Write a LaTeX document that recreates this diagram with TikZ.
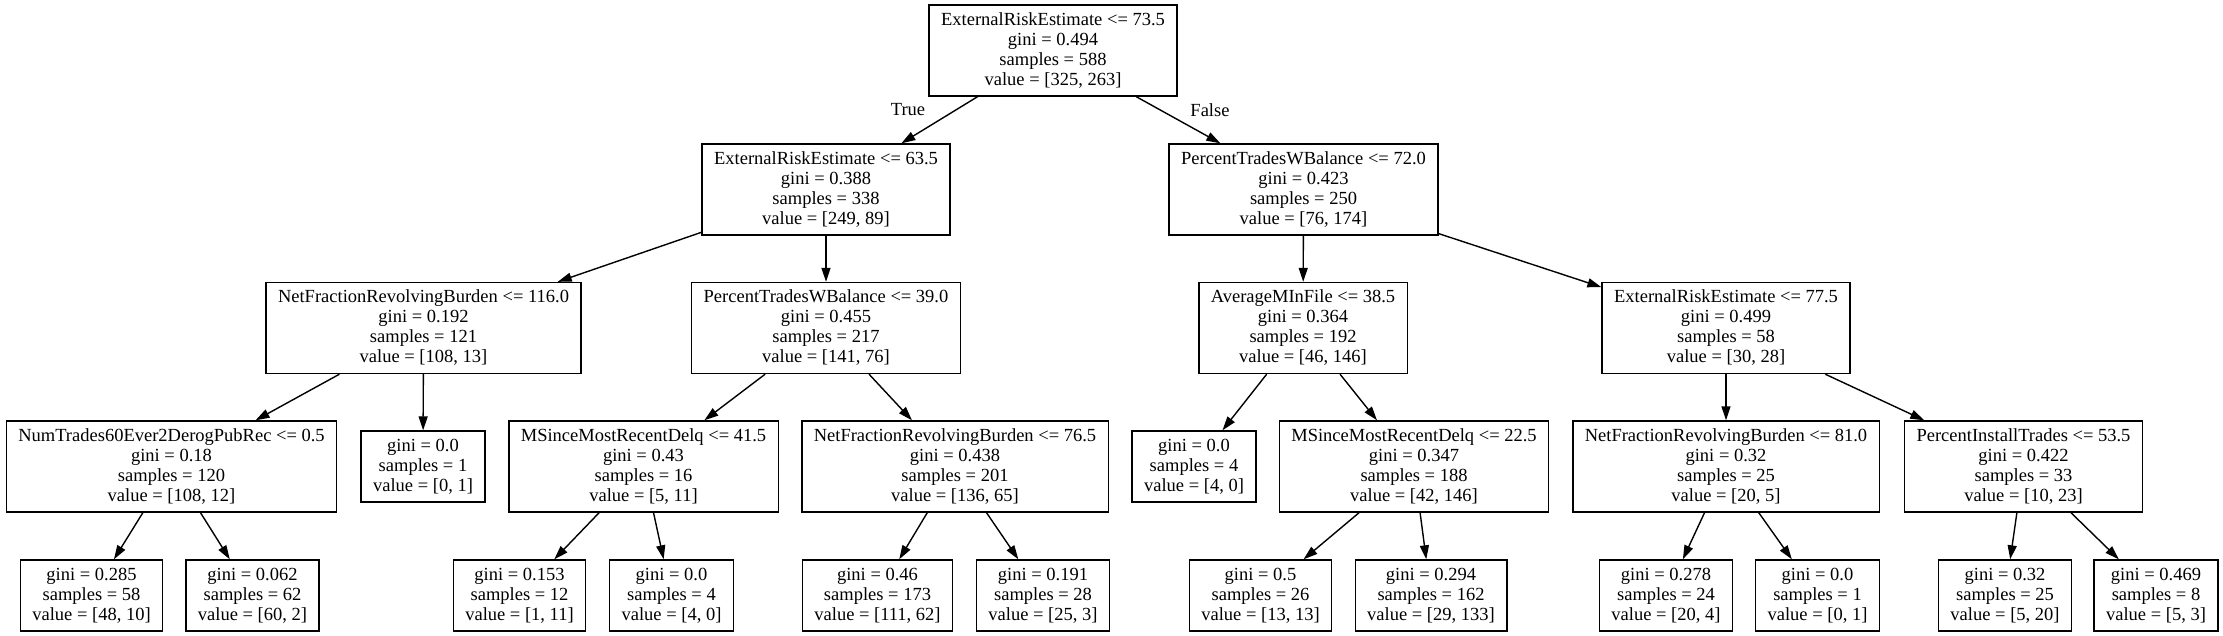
\documentclass[tikz,border=0pt]{standalone}
\usepackage{fontspec}
\setmainfont{Liberation Serif}
\usetikzlibrary{arrows.meta}

\tikzset{
    testNode/.style={draw, line width=1.4pt, align=center, inner xsep=12pt, inner ysep=4pt, minimum height=91pt, font=\fontsize{18.5}{20}\selectfont},
    leafNode/.style={testNode, minimum height=71pt},
    branchLbl/.style={font=\fontsize{18.5}{20}\selectfont},
}

\begin{document}
\begin{tikzpicture}[x=1pt, y=-1pt, >={Triangle[length=14pt,width=9pt]}, line width=1.4pt]
    \useasboundingbox (0,0) rectangle (2223,636);

    % root
    \node (ERE1) [testNode] at (1053,50.5) {ExternalRiskEstimate <= 73.5\\gini = 0.494\\samples = 588\\value = [325, 263]};;

    % depth 1
    \node (ERE2) [testNode] at (826,189.5) {ExternalRiskEstimate <= 63.5\\gini = 0.388\\samples = 338\\value = [249, 89]};;
    \node (PTWB1) [testNode] at (1303.5,189.5) {PercentTradesWBalance <= 72.0\\gini = 0.423\\samples = 250\\value = [76, 174]};;

    % depth 2
    \node (NFRB1) [testNode] at (423.5,328) {NetFractionRevolvingBurden <= 116.0\\gini = 0.192\\samples = 121\\value = [108, 13]};;
    \node (PTWB2) [testNode] at (826,328) {PercentTradesWBalance <= 39.0\\gini = 0.455\\samples = 217\\value = [141, 76]};;
    \node (AMIF) [testNode] at (1303,328) {AverageMInFile <= 38.5\\gini = 0.364\\samples = 192\\value = [46, 146]};;
    \node (ERE3) [testNode] at (1726,328) {ExternalRiskEstimate <= 77.5\\gini = 0.499\\samples = 58\\value = [30, 28]};;

    % depth 3
    \node (NT60) [testNode] at (171.5,466.5) {NumTrades60Ever2DerogPubRec <= 0.5\\gini = 0.18\\samples = 120\\value = [108, 12]};;
    \node (leaf1) [leafNode] at (423,466.5) {gini = 0.0\\samples = 1\\value = [0, 1]};;
    \node (MSMRD1) [testNode] at (643.5,466.5) {MSinceMostRecentDelq <= 41.5\\gini = 0.43\\samples = 16\\value = [5, 11]};;
    \node (NFRB2) [testNode] at (955,466.5) {NetFractionRevolvingBurden <= 76.5\\gini = 0.438\\samples = 201\\value = [136, 65]};;
    \node (leaf2) [leafNode] at (1194,466.5) {gini = 0.0\\samples = 4\\value = [4, 0]};;
    \node (MSMRD2) [testNode] at (1414,466.5) {MSinceMostRecentDelq <= 22.5\\gini = 0.347\\samples = 188\\value = [42, 146]};;
    \node (NFRB3) [testNode] at (1726,466.5) {NetFractionRevolvingBurden <= 81.0\\gini = 0.32\\samples = 25\\value = [20, 5]};;
    \node (PIT) [testNode] at (2023.5,466.5) {PercentInstallTrades <= 53.5\\gini = 0.422\\samples = 33\\value = [10, 23]};;

    % depth 4
    \node (leaf3) [leafNode] at (91.5,595.5) {gini = 0.285\\samples = 58\\value = [48, 10]};;
    \node (leaf4) [leafNode] at (252.5,595.5) {gini = 0.062\\samples = 62\\value = [60, 2]};;
    \node (leaf5) [leafNode] at (519.5,595.5) {gini = 0.153\\samples = 12\\value = [1, 11]};;
    \node (leaf6) [leafNode] at (671.5,595.5) {gini = 0.0\\samples = 4\\value = [4, 0]};;
    \node (leaf7) [leafNode] at (877.5,595.5) {gini = 0.46\\samples = 173\\value = [111, 62]};;
    \node (leaf8) [leafNode] at (1043,595.5) {gini = 0.191\\samples = 28\\value = [25, 3]};;
    \node (leaf9) [leafNode] at (1260.5,595.5) {gini = 0.5\\samples = 26\\value = [13, 13]};;
    \node (leaf10) [leafNode] at (1431,595.5) {gini = 0.294\\samples = 162\\value = [29, 133]};;
    \node (leaf11) [leafNode] at (1666,595.5) {gini = 0.278\\samples = 24\\value = [20, 4]};;
    \node (leaf12) [leafNode] at (1817.5,595.5) {gini = 0.0\\samples = 1\\value = [0, 1]};;
    \node (leaf13) [leafNode] at (2005,595.5) {gini = 0.32\\samples = 25\\value = [5, 20]};;
    \node (leaf14) [leafNode] at (2156,595.5) {gini = 0.469\\samples = 8\\value = [5, 3]};;

    % branch labels
    \node (lblTrue) [branchLbl] at (908,110) {True};;
    \node (lblFalse) [branchLbl] at (1210,110) {False};;

    % edges
    \draw[->] (ERE1) -- (ERE2);
    \draw[->] (ERE1) -- (PTWB1);
    \draw[->] (ERE2) -- (NFRB1);
    \draw[->] (ERE2) -- (PTWB2);
    \draw[->] (PTWB1) -- (AMIF);
    \draw[->] (PTWB1) -- (ERE3);
    \draw[->] (NFRB1) -- (NT60);
    \draw[->] (NFRB1) -- (leaf1);
    \draw[->] (PTWB2) -- (MSMRD1);
    \draw[->] (PTWB2) -- (NFRB2);
    \draw[->] (AMIF) -- (leaf2);
    \draw[->] (AMIF) -- (MSMRD2);
    \draw[->] (ERE3) -- (NFRB3);
    \draw[->] (ERE3) -- (PIT);
    \draw[->] (NT60) -- (leaf3);
    \draw[->] (NT60) -- (leaf4);
    \draw[->] (MSMRD1) -- (leaf5);
    \draw[->] (MSMRD1) -- (leaf6);
    \draw[->] (NFRB2) -- (leaf7);
    \draw[->] (NFRB2) -- (leaf8);
    \draw[->] (MSMRD2) -- (leaf9);
    \draw[->] (MSMRD2) -- (leaf10);
    \draw[->] (NFRB3) -- (leaf11);
    \draw[->] (NFRB3) -- (leaf12);
    \draw[->] (PIT) -- (leaf13);
    \draw[->] (PIT) -- (leaf14);
\end{tikzpicture}
\end{document}
